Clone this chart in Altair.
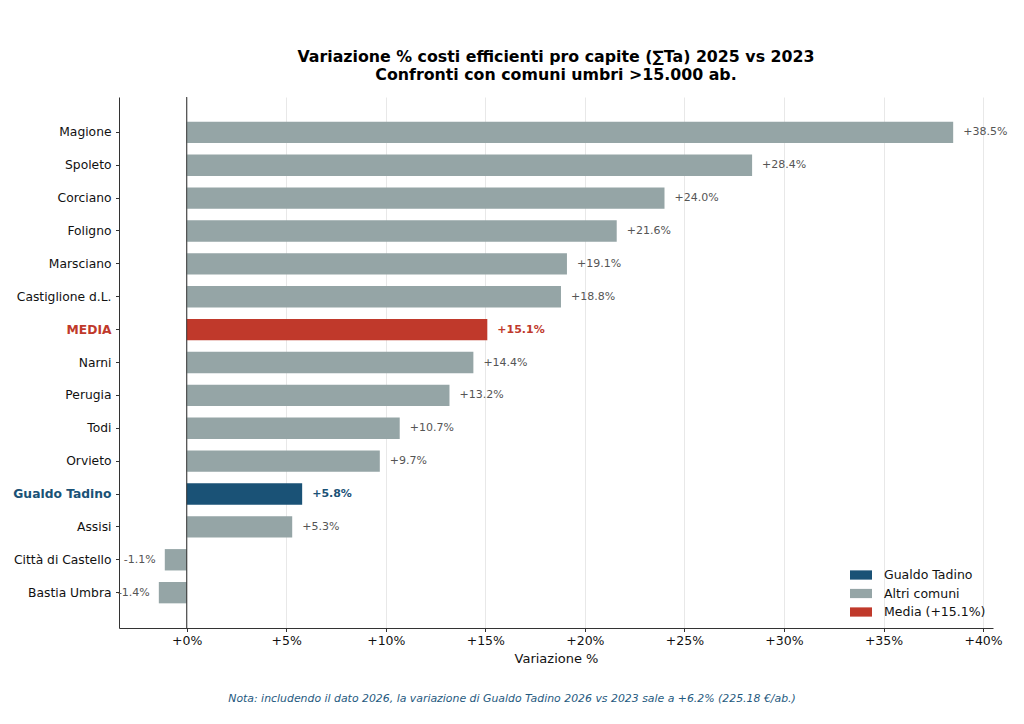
import altair as alt
import pandas as pd

comuni = ["Magione", "Spoleto", "Corciano", "Foligno", "Marsciano", "Castiglione d.L.",
          "MEDIA", "Narni", "Perugia", "Todi", "Orvieto", "Gualdo Tadino", "Assisi",
          "Città di Castello", "Bastia Umbra"]
variazioni = [38.5, 28.4, 24.0, 21.6, 19.1, 18.8, 15.1, 14.4, 13.2, 10.7, 9.7, 5.8, 5.3, -1.1, -1.4]
gruppi = ["Altri comuni"] * 6 + ["Media (+15.1%)"] + ["Altri comuni"] * 4 + ["Gualdo Tadino"] + ["Altri comuni"] * 3
x_ticks = [0, 5, 10, 15, 20, 25, 30, 35, 40]
legend_domain = ["Gualdo Tadino", "Altri comuni", "Media (+15.1%)"]
legend_colors = ["#1A5276", "#95A5A6", "#C0392B"]
title_lines = ["Variazione % costi efficienti pro capite (∑Ta) 2025 vs 2023",
               "Confronti con comuni umbri >15.000 ab."]
nota = "Nota: includendo il dato 2026, la variazione di Gualdo Tadino 2026 vs 2023 sale a +6.2% (225.18 €/ab.)"

df = pd.DataFrame({"comune": comuni, "var": variazioni, "gruppo": gruppi})
df["label"] = [("+" if v >= 0 else "") + f"{v:.1f}%" for v in variazioni]

FONT = "DejaVu Sans"
W, H = 874, 531

yenc = alt.Y("comune:N", sort=comuni,
             scale=alt.Scale(paddingInner=0.35, paddingOuter=0.75),
             axis=alt.Axis(title=None, labelFontSize=12.3, labelFont=FONT, tickSize=3.5,
                           labelPadding=4.5, domainColor="#333333", tickColor="#333333",
                           labelColor={"condition": [
                               {"test": "datum.value === 'MEDIA'", "value": "#C0392B"},
                               {"test": "datum.value === 'Gualdo Tadino'", "value": "#1A5276"}],
                               "value": "#111111"},
                           labelFontWeight={"condition": {
                               "test": "datum.value === 'MEDIA' || datum.value === 'Gualdo Tadino'",
                               "value": "bold"}, "value": "normal"}))
xscale = alt.Scale(domain=[-3.4, 40.5], nice=False, zero=False)
xaxis = alt.Axis(title="Variazione %", titleFontSize=13, titleFontWeight="normal", titleFont=FONT,
                 titleColor="#111111", titlePadding=5,
                 values=x_ticks, labelExpr="'+' + datum.value + '%'", labelFontSize=12.5,
                 labelFont=FONT, labelColor="#111111", tickSize=3.5, labelPadding=3,
                 grid=True, gridColor="#e8e8e8", domainColor="#333333", tickColor="#333333")

base = alt.Chart(df)

bars = base.mark_bar().encode(
    x=alt.X("var:Q", scale=xscale, axis=xaxis),
    y=yenc,
    color=alt.Color("gruppo:N", scale=alt.Scale(domain=legend_domain, range=legend_colors),
                    legend=alt.Legend(title=None, orient="none", legendX=731, legendY=467,
                                      labelFontSize=12.5, labelFont=FONT, labelColor="#111111",
                                      symbolType="M-1,-0.42L1,-0.42L1,0.42L-1,0.42Z",
                                      symbolSize=484, symbolStrokeWidth=0, symbolOpacity=1,
                                      rowPadding=0.5, labelOffset=12, padding=0)),
)

zero = alt.Chart(pd.DataFrame({"z": [0]})).mark_rule(color="#333333", strokeWidth=1).encode(
    x=alt.X("z:Q", scale=xscale))

normal = (df["comune"] != "MEDIA") & (df["comune"] != "Gualdo Tadino")

pos_lbl = alt.Chart(df[normal & (df["var"] >= 0)]).mark_text(
    align="left", baseline="middle", dx=10, fontSize=11, font=FONT, color="#555555").encode(
    x=alt.X("var:Q", scale=xscale), y=alt.Y("comune:N", sort=comuni), text="label:N")
neg_lbl = alt.Chart(df[normal & (df["var"] < 0)]).mark_text(
    align="right", baseline="middle", dx=-9, fontSize=11, font=FONT, color="#555555").encode(
    x=alt.X("var:Q", scale=xscale), y=alt.Y("comune:N", sort=comuni), text="label:N")
media_lbl = alt.Chart(df[df["comune"] == "MEDIA"]).mark_text(
    align="left", baseline="middle", dx=10, fontSize=11, font=FONT, fontWeight="bold",
    color="#C0392B").encode(
    x=alt.X("var:Q", scale=xscale), y=alt.Y("comune:N", sort=comuni), text="label:N")
gt_lbl = alt.Chart(df[df["comune"] == "Gualdo Tadino"]).mark_text(
    align="left", baseline="middle", dx=10, fontSize=11, font=FONT, fontWeight="bold",
    color="#1A5276").encode(
    x=alt.X("var:Q", scale=xscale), y=alt.Y("comune:N", sort=comuni), text="label:N")

note = alt.Chart(pd.DataFrame({"t": [nota]})).mark_text(
    align="center", baseline="middle", fontSize=10.9, font=FONT, fontStyle="italic",
    color="#1F5A80").encode(text="t:N", x=alt.value(393), y=alt.value(601.5))

chart = alt.layer(bars, zero, pos_lbl, neg_lbl, media_lbl, gt_lbl, note).properties(
    width=W, height=H,
    background="white",
    title=alt.TitleParams(title_lines, fontSize=15.8, fontWeight="bold", font=FONT, color="#000000",
                          anchor="middle", offset=13, lineHeight=18),
    autosize=alt.AutoSizeParams(type="none"),
    padding={"left": 111, "top": 89, "right": 23, "bottom": 88},
).configure_view(stroke=None)

chart.save("out.html", embed_options={"renderer": "svg", "actions": False})
